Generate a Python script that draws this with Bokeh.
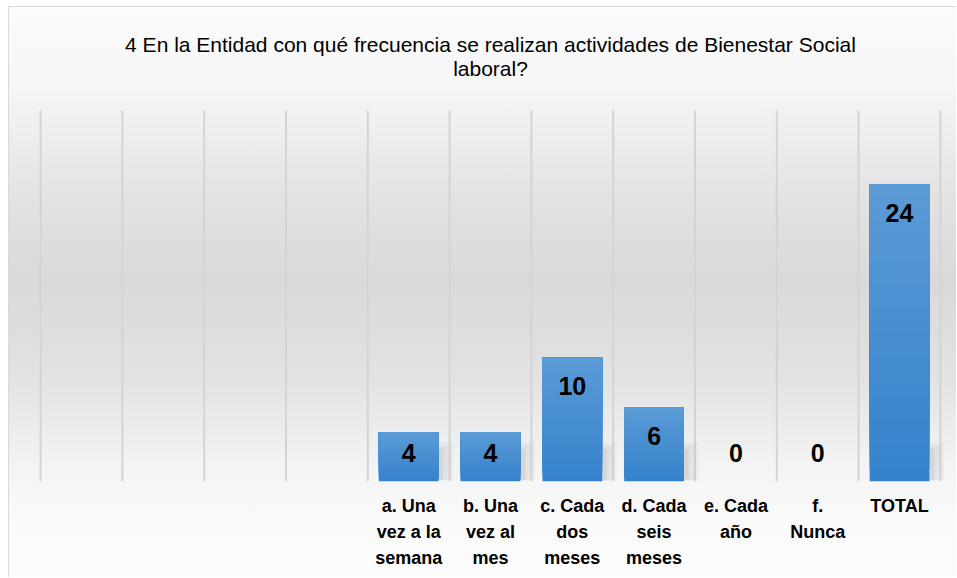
import numpy as np
from bokeh.plotting import figure
from bokeh.models import FixedTicker, Label, Range1d
from bokeh.core.properties import value
from bokeh.embed import file_html
from bokeh.resources import INLINE

# ---- data ----
categories = ["", "", "", "",
              "a. Una vez a la semana", "b. Una vez al mes", "c. Cada dos meses",
              "d. Cada seis meses", "e. Cada año", "f. Nunca", "TOTAL"]
tick_labels = ["", "", "", "",
               "a. Una\nvez a la\nsemana", "b. Una\nvez al\nmes", "c. Cada\ndos\nmeses",
               "d. Cada\nseis\nmeses", "e. Cada\naño", "f.\nNunca", "TOTAL"]
values = [None, None, None, None, 4, 4, 10, 6, 0, 0, 24]
title_line1 = "4 En la Entidad con qué frecuencia se realizan actividades de Bienestar Social"
title_line2 = "laboral?"

FONT = "Liberation Sans"
n = len(categories)
centers = [i + 0.5 for i in range(n)]
YMAX = 30                      # top of the value axis (plot area)
YTOP = YMAX * 474 / 371        # extra room above the plot area for the title

p = figure(width=948, height=571, output_backend="svg", toolbar_location=None,
           x_range=Range1d(-0.05, n + 0.05), y_range=Range1d(0, YTOP),
           min_border_left=27, min_border_right=13, min_border_top=0, min_border_bottom=97)
p.styles = {"background": "linear-gradient(to bottom, #fbfbfb 0%, #f6f6f6 14%, #e4e4e4 32%, #d9d9d9 48%, #e3e3e3 66%, #f3f3f3 80%, #fafafa 90%, #fcfcfc 100%)",
            "border-left": "1px solid #d9d9d9", "border-top": "1px solid #d9d9d9",
            "margin-left": "8px", "margin-top": "6px"}
p.background_fill_alpha = 0
p.border_fill_alpha = 0
p.outline_line_color = None

# title: two centred lines above the plot area
for txt, yy in [(title_line1, YMAX * 1.178), (title_line2, YMAX * 1.113)]:
    p.add_layout(Label(x=n / 2, y=yy, text=txt, text_align="center", text_baseline="middle",
                       text_font=FONT, text_font_size="21px", text_color="#000000"))

# vertical category separators (gridlines) spanning the plot area only
edges = list(range(n + 1))
p.segment(x0=edges, y0=[0] * len(edges), x1=edges, y1=[YMAX] * len(edges),
          line_color="#d4d4d4", line_width=2)

# bars
bx, bv = [], []
for c, v in zip(centers, values):
    if v is not None and v > 0:
        bx.append(c)
        bv.append(v)
bx = np.array(bx)
bv = np.array(bv, dtype=float)
BW = 0.73

# soft shadow to the lower right of each bar
for k, (w, a) in enumerate([(0.20, 0.05), (0.14, 0.08), (0.08, 0.10)]):
    p.vbar(x=bx + BW / 2 + w / 2 - 0.02, width=w, bottom=0.1, top=np.minimum(bv, 3.2) - 0.3 * k,
           fill_color="#6e6e6e", fill_alpha=a, line_color=None)

# bars with vertical gradient (light top -> darker bottom)
N = 24
top_col = np.array([0x5c, 0x9c, 0xd6])
bot_col = np.array([0x35, 0x82, 0xcc])
for i in range(N):
    f = i / N
    col = bot_col + (top_col - bot_col) * f
    hexc = "#%02x%02x%02x" % tuple(int(round(c)) for c in col)
    p.vbar(x=bx, width=BW, bottom=bv * f, top=bv, fill_color=hexc, line_color=None)

# value labels
lx, ly, lt = [], [], []
for c, v in zip(centers, values):
    if v is None:
        continue
    lx.append(c)
    ly.append(max(v - 2.3, 2.3))
    lt.append(str(v))
p.text(x=lx, y=ly, text=lt, text_font=value(FONT), text_font_size="25px",
       text_font_style="bold", text_align="center", text_baseline="middle", text_color="#000000")

# axes
p.yaxis.visible = False
p.ygrid.visible = False
p.xgrid.visible = False
p.xaxis.ticker = FixedTicker(ticks=centers)
p.xaxis.major_label_overrides = {c: t for c, t in zip(centers, tick_labels)}
p.xaxis.axis_line_color = None
p.xaxis.major_tick_line_color = None
p.xaxis.minor_tick_line_color = None
p.xaxis.major_label_text_font = FONT
p.xaxis.major_label_text_font_size = "18px"
p.xaxis.major_label_text_font_style = "bold"
p.xaxis.major_label_text_color = "#000000"
p.xaxis.major_label_text_line_height = 1.32
p.xaxis.major_label_standoff = 8

open("out.html", "w").write(file_html(p, INLINE))
